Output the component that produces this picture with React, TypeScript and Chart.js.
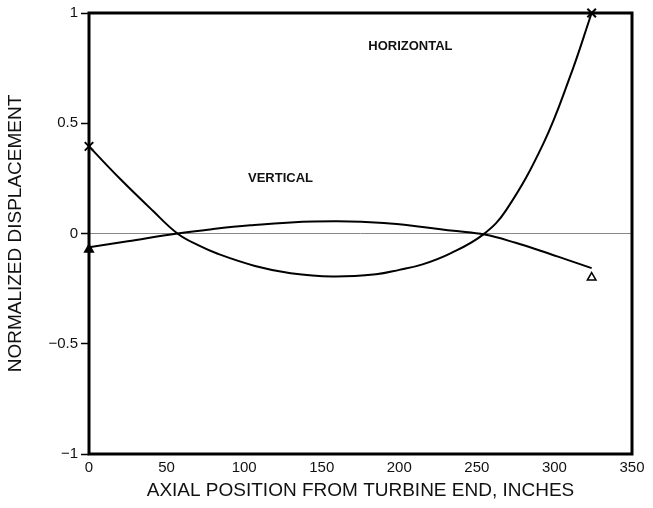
import React, { useEffect, useRef } from "react";
import { Chart, registerables } from "chart.js";

Chart.register(...registerables);

const horizontalX = [0, 20, 41, 57, 70, 83, 107, 130, 157, 185, 200, 215, 233, 254, 269, 293, 310, 324];
const horizontalY = [0.395, 0.248, 0.104, 0, -0.052, -0.092, -0.147, -0.18, -0.195, -0.185, -0.165, -0.14, -0.09, -0.005, 0.107, 0.41, 0.71, 1.0];

const verticalX = [0, 25, 57, 80, 104, 130, 160, 190, 215, 235, 255, 275, 291, 307, 324];
const verticalY = [-0.062, -0.035, 0, 0.02, 0.037, 0.05, 0.055, 0.048, 0.03, 0.012, -0.005, -0.042, -0.078, -0.116, -0.157];

const verticalMarkX = [0, 324];
const verticalMarkY = [-0.072, -0.2];

const xTicks = [0, 50, 100, 150, 200, 250, 300, 350];
const yTicks = [-1, -0.5, 0, 0.5, 1];

const labelTexts = ["HORIZONTAL", "VERTICAL"];
const labelX = [180, 102.5];
const labelY = [0.847, 0.252];

const FONT = "'Liberation Sans', 'DejaVu Sans', sans-serif";

export default function App() {
  const ref = useRef<HTMLCanvasElement | null>(null);

  useEffect(() => {
    const canvas = ref.current;
    if (!canvas) return;

    const framePlugin = {
      id: "frame",
      afterDatasetsDraw(chart: any) {
        const { ctx, chartArea } = chart;
        const xs = chart.scales.x;
        const ys = chart.scales.y;
        ctx.save();
        ctx.fillStyle = "#111";
        ctx.font = "bold 13px " + FONT;
        ctx.textAlign = "left";
        ctx.textBaseline = "middle";
        labelTexts.forEach((t, i) => {
          ctx.fillText(t, xs.getPixelForValue(labelX[i]), ys.getPixelForValue(labelY[i]));
        });
        ctx.strokeStyle = "#000";
        ctx.lineWidth = 3;
        ctx.strokeRect(chartArea.left, chartArea.top, chartArea.right - chartArea.left, chartArea.bottom - chartArea.top);
        ctx.restore();
      },
    };

    const chart = new Chart(canvas, {
      type: "scatter",
      data: {
        datasets: [
          {
            label: "Horizontal",
            data: horizontalX.map((x, i) => ({ x, y: horizontalY[i] })),
            showLine: true,
            borderColor: "#000",
            borderWidth: 2,
            tension: 0.4,
            pointStyle: "crossRot",
            pointRadius: (c: any) => (c.dataIndex === 0 || c.dataIndex === horizontalX.length - 1 ? 6 : 0),
            pointBorderColor: "#000",
            pointBorderWidth: 2,
            clip: false as any,
          },
          {
            label: "Vertical",
            data: verticalX.map((x, i) => ({ x, y: verticalY[i] })),
            showLine: true,
            borderColor: "#000",
            borderWidth: 2,
            tension: 0.4,
            pointRadius: 0,
          },
          {
            label: "Vertical markers",
            data: verticalMarkX.map((x, i) => ({ x, y: verticalMarkY[i] })),
            showLine: false,
            pointStyle: "triangle",
            pointRadius: 5,
            pointBorderColor: "#000",
            pointBackgroundColor: (c: any) => (c.dataIndex === 0 ? "#000" : "#fff"),
            pointBorderWidth: 1.5,
            clip: false as any,
          },
        ],
      },
      options: {
        animation: false,
        responsive: false,
        maintainAspectRatio: false,
        layout: { padding: { left: 0, right: 21, top: 13, bottom: 0 } },
        plugins: { legend: { display: false }, tooltip: { enabled: false } },
        scales: {
          x: {
            type: "linear",
            min: 0,
            max: 350,
            afterBuildTicks: (s: any) => {
              s.ticks = xTicks.map((v) => ({ value: v }));
            },
            afterFit: (s: any) => {
              s.height = 54;
            },
            grid: { display: false, drawTicks: false },
            border: { display: false },
            ticks: { color: "#111", font: { size: 15, family: FONT }, padding: 5, maxRotation: 0 },
            title: {
              display: true,
              text: "AXIAL POSITION FROM TURBINE END, INCHES",
              color: "#111",
              font: { size: 19, family: FONT },
              padding: { top: 0, bottom: 6 },
            },
          },
          y: {
            type: "linear",
            min: -1,
            max: 1,
            afterBuildTicks: (s: any) => {
              s.ticks = yTicks.map((v) => ({ value: v }));
            },
            afterFit: (s: any) => {
              s.width = 89;
            },
            grid: {
              drawOnChartArea: true,
              color: (c: any) => (c.tick && c.tick.value === 0 ? "#888" : "rgba(0,0,0,0)"),
              lineWidth: 1,
              tickColor: "#000",
              tickLength: 8,
              tickWidth: 1.5,
            },
            border: { display: false },
            ticks: {
              color: "#111",
              font: { size: 15, family: FONT },
              padding: 3,
              callback: (v: any) => (Number(v) < 0 ? "\u2212" + String(Math.abs(Number(v))) : String(v)),
            },
            title: {
              display: true,
              text: "NORMALIZED DISPLACEMENT",
              color: "#111",
              font: { size: 19, family: FONT },
              padding: { top: 4, bottom: 4 },
            },
          },
        },
      },
      plugins: [framePlugin],
    } as any);

    return () => chart.destroy();
  }, []);

  return (
    <div style={{ position: "fixed", left: 0, top: 0, width: 653, height: 508, background: "#fff" }}>
      <canvas ref={ref} width={653} height={508} style={{ display: "block" }} />
    </div>
  );
}
